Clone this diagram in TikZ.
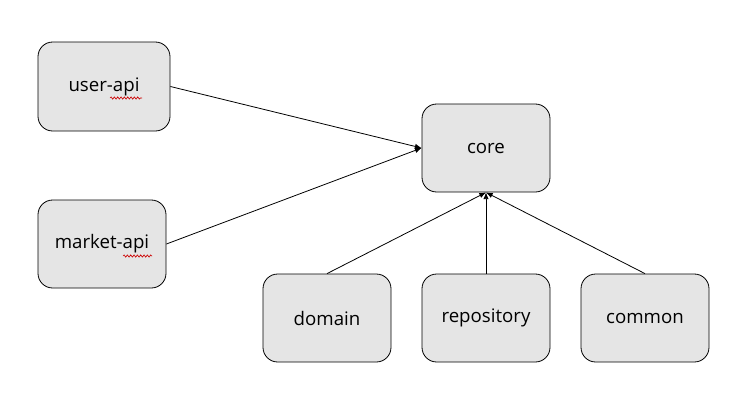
\documentclass[tikz,border=0pt]{standalone}
\usepackage{fontspec}
\setmainfont{Open Sans}
\usetikzlibrary{arrows.meta,decorations.pathmorphing}
\begin{document}
\begin{tikzpicture}[x=0.75pt,y=-0.75pt,
  box/.style={draw=black,fill=black!10,rounded corners=11pt,minimum width=128*0.75pt,minimum height=88*0.75pt,inner sep=0pt,font=\fontsize{14}{16}\selectfont,line width=0.6pt},
  conn/.style={draw=black,line width=0.6pt,-{Latex[length=5pt,width=4pt]}},
  squig/.style={draw=red!80!black,line width=0.5pt,decorate,decoration={snake,amplitude=0.8pt,segment length=2.5pt}}]
\useasboundingbox (0,0) rectangle (745,394);
\node[box,minimum width=132*0.75pt,minimum height=89*0.75pt] (user) at (104,86.5) {user-api};
\node[box] (market) at (102,244) {market-api};
\node[box] (core) at (486,148) {core};
\node[box] (domain) at (327,318) {domain};
\node[box] (repo) at (486,318) {repository};
\node[box] (common) at (645,318) {common};
\coordinate (u1) at (110,98); \coordinate (u2) at (142,98);
\coordinate (m1) at (123,256); \coordinate (m2) at (152,256);
\draw[squig] (u1) -- (u2);
\draw[squig] (m1) -- (m2);
\draw[conn] (user.east) -- (core.west);
\draw[conn] (market.east) -- (core.west);
\draw[conn] (domain.north) -- (core.south);
\draw[conn] (repo.north) -- (core.south);
\draw[conn] (common.north) -- (core.south);
\end{tikzpicture}
\end{document}
